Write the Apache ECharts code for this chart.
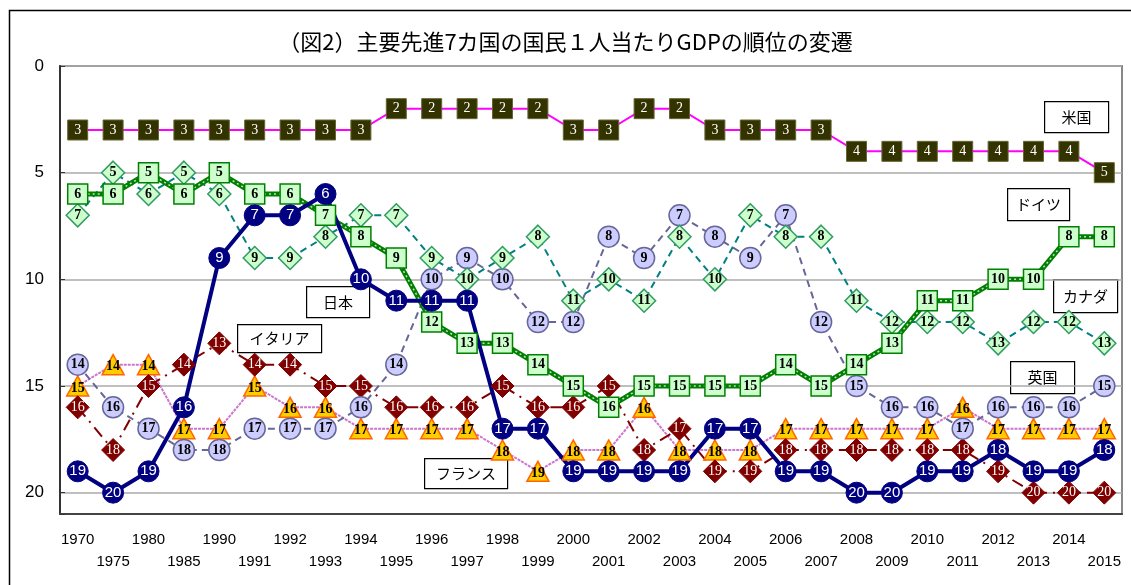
<!DOCTYPE html>
<html style="height: 100%">
<head>
<meta charset="UTF-8">
<style>
  body { margin: 0; background: #fff; }
  #container { width: 1131px; height: 585px; }
</style>
</head>
<body>
<div id="container"></div>
<script src="https://cdn.jsdelivr.net/npm/echarts@6/dist/echarts.min.js"></script>
<script>
// years on the x axis
var years = ['1970', '1975', '1980', '1985', '1990', '1991', '1992', '1993', '1994', '1995',
  '1996', '1997', '1998', '1999', '2000', '2001', '2002', '2003', '2004', '2005',
  '2006', '2007', '2008', '2009', '2010', '2011', '2012', '2013', '2014', '2015'];

// rank of each country
var usa     = [3, 3, 3, 3, 3, 3, 3, 3, 3, 2, 2, 2, 2, 2, 3, 3, 2, 2, 3, 3, 3, 3, 4, 4, 4, 4, 4, 4, 4, 5];
var japan   = [19, 20, 19, 16, 9, 7, 7, 6, 10, 11, 11, 11, 17, 17, 19, 19, 19, 19, 17, 17, 19, 19, 20, 20, 19, 19, 18, 19, 19, 18];
var germany = [6, 6, 5, 6, 5, 6, 6, 7, 8, 9, 12, 13, 13, 14, 15, 16, 15, 15, 15, 15, 14, 15, 14, 13, 11, 11, 10, 10, 8, 8];
var canada  = [7, 5, 6, 5, 6, 9, 9, 8, 7, 7, 9, 10, 9, 8, 11, 10, 11, 8, 10, 7, 8, 8, 11, 12, 12, 12, 13, 12, 12, 13];
var uk      = [14, 16, 17, 18, 18, 17, 17, 17, 16, 14, 10, 9, 10, 12, 12, 8, 9, 7, 8, 9, 7, 12, 15, 16, 16, 17, 16, 16, 16, 15];
var france  = [15, 14, 14, 17, 17, 15, 16, 16, 17, 17, 17, 17, 18, 19, 18, 18, 16, 18, 18, 18, 17, 17, 17, 17, 17, 16, 17, 17, 17, 17];
var italy   = [16, 18, 15, 14, 13, 14, 14, 15, 15, 16, 16, 16, 15, 16, 16, 15, 18, 17, 19, 19, 18, 18, 18, 18, 18, 18, 19, 20, 20, 20];

var serifLabel = { show: true, position: 'inside', fontFamily: 'Liberation Serif', fontSize: 14, fontWeight: 'bold', color: '#000' };

function nameBox(x, y, w, h, txt) {
  return {
    type: 'group', left: x, top: y, z: 100,
    children: [
      { type: 'rect', shape: { x: 0, y: 0, width: w, height: h }, style: { fill: '#fff', stroke: '#000', lineWidth: 1.2 } },
      { type: 'text', x: w / 2, y: h / 2, style: { text: txt, font: '15px "Noto Sans CJK JP"', fill: '#000', align: 'center', verticalAlign: 'middle' } }
    ]
  };
}

var myChart = echarts.init(document.getElementById('container'));
var option = {
  animation: false,
  title: {
    text: '（図2）主要先進7カ国の国民１人当たりGDPの順位の変遷',
    left: 'center', top: 26,
    textStyle: { fontFamily: 'Noto Sans CJK JP', fontSize: 22, fontWeight: 'normal', color: '#000' }
  },
  grid: { left: 60, right: 9, top: 66, bottom: 71, show: true, borderColor: '#888', borderWidth: 2 },
  xAxis: {
    type: 'category',
    data: years,
    axisLine: { onZero: false, lineStyle: { color: '#444', width: 2 } },
    axisTick: { show: false },
    axisLabel: {
      interval: 0, margin: 15, fontFamily: 'Liberation Sans', fontSize: 15, color: '#000', lineHeight: 22,
      formatter: function (v, i) { return i % 2 === 0 ? v : '\n' + v; }
    }
  },
  yAxis: {
    type: 'value', inverse: true, min: 0, max: 21, interval: 5,
    axisLine: { show: true, lineStyle: { color: '#333', width: 2 } },
    axisTick: { show: true, inside: true, length: 5, lineStyle: { color: '#333' } },
    splitLine: { lineStyle: { color: '#aaa', width: 1.5 } },
    axisLabel: {
      margin: 16, fontFamily: 'Liberation Sans', fontSize: 17, color: '#000',
      formatter: function (v) { return v % 5 === 0 ? v : ''; }
    }
  },
  graphic: [
    { type: 'rect', left: 7, top: 8, z: -10, silent: true,
      shape: { x: 0, y: 0, width: 1150, height: 600 }, style: { fill: 'none', stroke: '#000', lineWidth: 1.5 } },
    nameBox(1044, 101, 64, 31, '米国'),
    nameBox(1007, 188, 62, 32, 'ドイツ'),
    nameBox(1053, 279, 64, 33, 'カナダ'),
    nameBox(1010, 361, 64, 32, '英国'),
    nameBox(306, 286, 63, 31, '日本'),
    nameBox(237, 324, 84, 28, 'イタリア'),
    nameBox(424, 458, 83, 30, 'フランス')
  ],
  series: [
    {
      name: 'フランス', type: 'line', data: france,
      lineStyle: { color: '#CC77CC', width: 2, type: [3, 1] },
      symbol: 'triangle', symbolSize: [22, 20],
      itemStyle: { color: '#FFCC00', borderColor: '#FF6600', borderWidth: 1.5 },
      label: Object.assign({}, serifLabel, { offset: [0, 2] })
    },
    {
      name: 'イタリア', type: 'line', data: italy,
      lineStyle: { color: '#800000', width: 2, type: [12, 6, 2, 6] },
      symbol: 'diamond', symbolSize: 23,
      itemStyle: { color: '#800000', borderColor: '#800000' },
      label: Object.assign({}, serifLabel, { color: '#fff', fontWeight: 'normal' })
    },
    {
      name: '英国', type: 'line', data: uk,
      lineStyle: { color: '#666699', width: 2, type: [7, 5] },
      symbol: 'circle', symbolSize: 21,
      itemStyle: { color: '#CCCCFF', borderColor: '#666699', borderWidth: 1.5 },
      label: serifLabel
    },
    {
      name: 'カナダ', type: 'line', data: canada,
      lineStyle: { color: '#008080', width: 2, type: [7, 5] },
      symbol: 'diamond', symbolSize: 23,
      itemStyle: { color: '#CCFFCC', borderColor: '#339966', borderWidth: 1.5 },
      label: serifLabel
    },
    {
      name: 'ドイツ', type: 'line', data: germany,
      lineStyle: { color: '#008000', width: 5 },
      symbol: 'none', silent: true
    },
    {
      name: 'ドイツ ', type: 'line', data: germany,
      lineStyle: { color: 'rgba(255,255,255,0.75)', width: 1.5, type: [2, 3] },
      symbol: 'rect', symbolSize: 20,
      itemStyle: { color: '#CCFFCC', borderColor: '#008000', borderWidth: 1.5 },
      label: serifLabel
    },
    {
      name: '日本', type: 'line', data: japan,
      lineStyle: { color: '#000080', width: 4 },
      symbol: 'circle', symbolSize: 21,
      itemStyle: { color: '#000080', borderColor: '#000080' },
      label: { show: true, position: 'inside', fontFamily: 'Liberation Sans', fontSize: 15, color: '#fff' }
    },
    {
      name: '米国', type: 'line', data: usa,
      lineStyle: { color: '#FF00FF', width: 2 },
      symbol: 'rect', symbolSize: 20,
      itemStyle: { color: '#333300', borderColor: '#666633', borderWidth: 1 },
      label: Object.assign({}, serifLabel, { color: '#fff', fontWeight: 'normal' })
    }
  ]
};
option && myChart.setOption(option);
</script>
</body>
</html>
